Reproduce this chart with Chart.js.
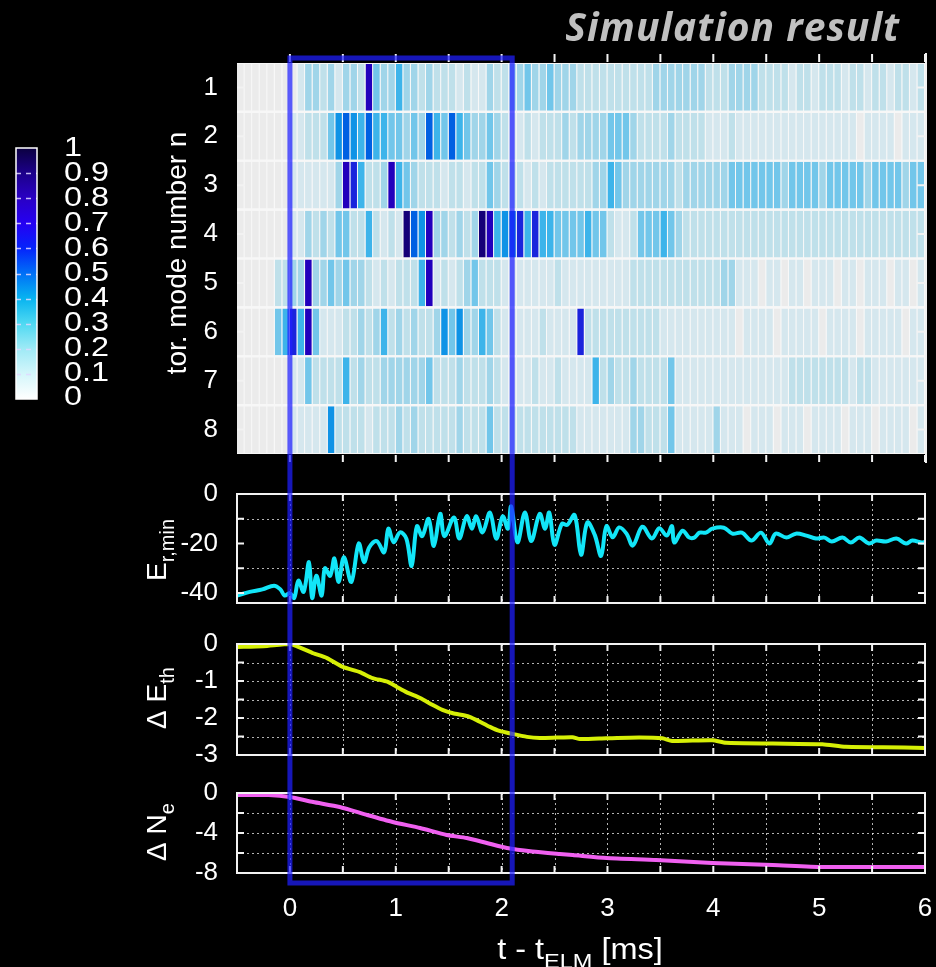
<!DOCTYPE html>
<html>
<head>
<meta charset="utf-8">
<script src="https://cdn.jsdelivr.net/npm/chart.js@4.4.0/dist/chart.umd.min.js"></script>
<style>
  html, body { margin: 0; background: #000; }
  #fig { position: relative; width: 936px; height: 967px; overflow: hidden; background: #000; }
  #fig canvas { position: absolute; left: 0; }
  #title { position: absolute; right: 36px; top: -1px; color: #c0c0c0; letter-spacing: 1px;
           font: italic 700 39px "Open Sans", sans-serif; white-space: nowrap; }
</style>
</head>
<body>
<div id="fig">
  <canvas id="heat" width="936" height="470" style="top:0"></canvas>
  <canvas id="er" width="936" height="155" style="top:470px"></canvas>
  <canvas id="eth" width="936" height="145" style="top:625px"></canvas>
  <canvas id="ne" width="936" height="197" style="top:770px"></canvas>
  <div id="title">Simulation result</div>
</div>
<script>
const FONT = '"Liberation Sans", Arial, Helvetica, sans-serif';

// toroidal mode amplitude, one value per column (tenths of max), columns 1/14 ms wide from -0.5 ms
const modeNumbers = ['1', '2', '3', '4', '5', '6', '7', '8'];
const colStart = -0.5;
const colWidth = 1 / 14;
const modeN1 = [0,0,0,0,0,0,0,0,1,3, 3,2,3,1,3,3,2,9,4,3, 3,5,3,3,2,3,2,2,2,1, 2,1,1,3,2,2,3,3,4,3,
                3,4,3,3,3,2,2,2,2,2, 2,2,2,2,2,3,3,3,3,3, 3,3,2,2,2,3,3,3,3,2, 2,2,2,1,2,2,1,2,2,2,
                1,2,2,1,2,2,1,2,2,1, 2];
const modeN2 = [0,0,0,0,0,0,0,1,1,2, 2,2,4,6,7,6,5,7,5,5, 4,4,3,4,3,7,5,4,7,5, 4,3,3,4,3,2,1,1,2,1,
                2,2,2,3,2,3,3,3,3,4, 4,4,3,2,2,2,2,3,2,2, 2,2,1,1,1,2,1,1,1,1, 1,1,1,1,1,1,1,1,1,1,
                1,1,0,1,1,1,1,0,1,1, 1];
const modeN3 = [0,0,0,0,0,0,0,1,1,1, 1,1,1,3,9,8,5,2,2,3, 9,5,4,3,2,2,2,1,2,2, 1,2,2,4,3,2,2,2,1,2,
                1,2,2,2,2,2,2,3,3,5, 4,3,3,3,3,3,3,3,2,3, 3,3,3,3,3,4,4,4,4,4, 4,4,3,4,4,4,4,3,4,4,
                4,4,4,3,4,4,4,4,3,4, 4];
const modeN4 = [0,0,0,0,0,0,0,1,1,3, 2,3,2,4,4,2,2,5,2,1, 2,1,10,7,6,9,3,3,2,3, 2,3,10,9,5,6,7,8,5,8,
                5,5,4,4,4,4,5,4,4,2, 1,1,2,4,4,4,5,4,3,2, 2,2,2,2,2,2,2,2,2,2, 2,2,2,2,2,2,2,2,2,2,
                2,2,2,2,2,2,2,2,2,2, 2];
const modeN5 = [0,0,0,0,0,2,2,3,3,9, 3,3,4,3,4,3,3,2,1,2, 1,2,2,2,5,9,1,2,1,2, 3,4,2,2,2,1,1,1,1,1,
                1,1,2,1,1,1,1,1,1,1, 1,1,2,2,2,2,2,2,2,2, 2,2,2,2,3,3,1,1,1,0, 1,1,0,1,1,0,1,1,1,0,
                1,1,0,1,1,1,0,1,1,0, 1];
const modeN6 = [0,0,0,0,0,4,5,8,5,9, 4,1,1,1,2,2,3,2,3,5, 2,3,2,3,2,2,3,6,4,6, 3,3,5,4,2,1,1,1,1,1,
                2,1,1,1,1,8,2,2,2,2, 2,2,2,2,2,2,1,1,1,1, 1,1,1,1,1,1,0,1,1,1, 1,0,1,1,1,1,1,0,1,1,
                1,1,0,1,1,1,1,1,0,1, 1];
const modeN7 = [0,0,0,0,0,0,0,1,1,4, 2,2,2,2,5,2,3,2,2,3, 3,3,3,3,3,4,2,2,2,3, 2,2,2,3,2,1,1,1,1,2,
                1,1,2,1,1,1,1,5,2,3, 2,2,3,2,2,2,2,4,1,1, 1,1,1,1,1,1,1,1,1,1, 1,1,1,2,2,2,2,2,2,2,
                2,1,2,2,1,1,1,1,1,1, 1];
const modeN8 = [0,0,0,0,0,0,0,1,1,1, 1,1,6,2,2,2,2,1,2,2, 2,3,2,3,2,2,2,2,2,3, 2,2,2,4,2,2,2,2,2,2,
                2,2,2,2,2,1,1,1,1,1, 1,1,3,3,2,2,2,4,1,1, 1,1,1,3,1,1,1,0,1,1, 1,0,1,1,1,0,1,1,1,1,
                0,1,1,1,0,1,1,1,1,0, 1];
const heatRows = [modeN1, modeN2, modeN3, modeN4, modeN5, modeN6, modeN7, modeN8];
const heatPalette = ['#ebebeb', '#d5e7ee', '#bfe0ea', '#a0d5e9', '#72c6ea', '#3db4ea',
                     '#0f93e6', '#0060e2', '#1a24dc', '#2200bc', '#150078'];

// colour bar
const cbarLevels = [0, 0.1, 0.2, 0.3, 0.4, 0.5, 0.6, 0.7, 0.8, 0.9, 1];
const cbarLabels = ['0', '0.1', '0.2', '0.3', '0.4', '0.5', '0.6', '0.7', '0.8', '0.9', '1'];
const cbarColors = ['#ffffff', '#d4f6fb', '#9feaf6', '#4fd9f2', '#08b4f0', '#0070f6',
                    '#0524fb', '#2500f2', '#2a00c4', '#1c008a', '#0b0040'];

// minimum radial electric field
const erTime = [-0.50,-0.38,-0.26,-0.15,-0.09,-0.05,0.00,0.04,0.08,0.13,0.18,0.21,0.25,0.30,0.33,0.38,0.42,
  0.46,0.51,0.58,0.65,0.70,0.75,0.82,0.89,0.93,0.98,1.04,1.10,1.15,1.20,1.25,1.31,1.36,1.42,1.46,1.55,1.60,
  1.67,1.72,1.76,1.82,1.89,1.95,2.01,2.06,2.09,2.15,2.22,2.28,2.36,2.41,2.45,2.50,2.57,2.62,2.69,2.75,2.81,
  2.88,2.94,2.99,3.05,3.11,3.18,3.24,3.33,3.42,3.49,3.56,3.61,3.63,3.71,3.77,3.82,3.87,3.93,3.99,4.10,4.18,
  4.27,4.36,4.45,4.53,4.59,4.69,4.78,4.88,4.97,5.05,5.12,5.22,5.30,5.38,5.47,5.54,5.63,5.73,5.82,5.88,5.97,6.00];
const erValue = [-41,-39.5,-38.5,-37,-38.5,-41,-40,-42,-35,-39.5,-27.5,-42,-33,-41,-30,-33,-26,
  -35.5,-25.5,-35.5,-20,-27.5,-21.5,-19,-23.5,-14,-19.5,-15.5,-18,-29,-13,-17,-10,-21,-8,-17,-9.5,-18,
  -9,-14,-9,-15.5,-7.5,-18,-9,-14,-5,-19.5,-7.5,-19,-8,-14,-7.5,-20.5,-12,-12.5,-8.5,-24.5,-11.5,
  -16.5,-25,-13,-17.5,-13.5,-16,-20.8,-13.2,-18,-13.8,-16.8,-13,-19.6,-14.8,-17.5,-17.6,-15.6,-15.6,-14,-13.6,-16,
  -15.6,-18.8,-15.6,-20,-16,-17.6,-16,-16.8,-18,-17.6,-19.2,-17.6,-19.6,-17.6,-20,-18.8,-19.2,-18,-20,-18.8,-19.6,-19.4];

// thermal energy change
const ethTime = [-0.5,-0.25,0,0.22,0.35,0.5,0.66,0.78,0.92,1.01,1.10,1.23,1.35,1.44,1.54,1.68,1.76,1.89,
  1.98,2.10,2.24,2.36,2.52,2.67,2.74,2.99,3.30,3.52,3.61,3.99,4.12,4.56,5.03,5.25,5.6,6.0];
const ethValue = [-0.08,-0.06,0,-0.25,-0.38,-0.62,-0.76,-0.92,-1.02,-1.16,-1.30,-1.46,-1.65,-1.78,-1.87,-1.95,
  -2.05,-2.24,-2.35,-2.43,-2.51,-2.54,-2.53,-2.52,-2.57,-2.55,-2.53,-2.55,-2.62,-2.60,-2.67,-2.69,-2.71,-2.78,-2.79,-2.81];

// particle number change
const neTime = [-0.5,-0.2,0,0.22,0.47,0.73,0.97,1.23,1.48,1.67,1.86,2.05,2.29,2.55,2.67,2.99,3.46,3.99,4.56,5.03,5.5,6.0];
const neValue = [-0.2,-0.2,-0.4,-0.9,-1.4,-2.2,-2.9,-3.5,-4.2,-4.5,-5.0,-5.5,-5.85,-6.1,-6.2,-6.5,-6.7,-7.0,-7.2,-7.4,-7.4,-7.4];

const timeTicks = [0, 1, 2, 3, 4, 5, 6];
const erTicks = [0, -20, -40];
const erGrid = [-10, -30];
const ethTicks = [0, -1, -2, -3];
const ethGrid = [-0.5, -1, -1.5, -2, -2.5];
const neTicks = [0, -4, -8];
const neGrid = [-2, -4, -6];
const elmWindow = [0, 2.1];

// label pieces: [text, isSubscript]
const heatTitle = [['tor. mode number n', false]];
const erTitle = [['E', false], ['r,min', true]];
const ethTitle = [['\u0394 E', false], ['th', true]];
const neTitle = [['\u0394 N', false], ['e', true]];
const timeTitle = [['t - t', false], ['ELM', true], [' [ms]', false]];

function drawRich(ctx, parts, cx, cy, size, rotated) {
  const sub = Math.round(size * 0.72);
  ctx.save();
  ctx.translate(cx, cy);
  if (rotated) ctx.rotate(-Math.PI / 2);
  ctx.fillStyle = '#fff';
  ctx.textBaseline = 'alphabetic';
  ctx.textAlign = 'left';
  const widths = parts.map(([t, s]) => { ctx.font = (s ? sub : size) + 'px ' + FONT; return ctx.measureText(t).width; });
  let x = -widths.reduce((a, b) => a + b, 0) / 2;
  parts.forEach(([t, s], i) => {
    ctx.font = (s ? sub : size) + 'px ' + FONT;
    ctx.fillText(t, x, s ? size * 0.3 : 0);
    x += widths[i];
  });
  ctx.restore();
}

const panelPlugin = {
  id: 'panel',
  beforeDatasetsDraw(chart, args, o) {
    const { ctx, chartArea: a, scales: { x, y } } = chart;
    ctx.save();
    if (o.heat) {
      ctx.fillStyle = '#f7f7f7';
      ctx.fillRect(a.left, a.top, a.right - a.left, a.bottom - a.top);
    } else {
      ctx.strokeStyle = 'rgba(255,255,255,0.7)';
      ctx.lineWidth = 1;
      ctx.setLineDash([2, 3]);
      ctx.beginPath();
      for (let t = 0; t < 6; t += 0.5) {
        const px = Math.round(x.getPixelForValue(t)) + 0.5;
        ctx.moveTo(px, a.top); ctx.lineTo(px, a.bottom);
      }
      o.grid.forEach(v => {
        const py = Math.round(y.getPixelForValue(v)) + 0.5;
        ctx.moveTo(a.left, py); ctx.lineTo(a.right, py);
      });
      ctx.stroke();
    }
    ctx.restore();
  },
  afterDatasetsDraw(chart, args, o) {
    const { ctx, chartArea: a, scales: { x, y } } = chart;
    ctx.save();
    ctx.strokeStyle = '#f2f2f2';
    ctx.lineWidth = 2;
    ctx.beginPath();
    if (o.heat) {
      // outward time ticks, inward row ticks, right frame
      for (let t = 0; t <= 6; t += 0.5) {
        const px = x.getPixelForValue(t);
        ctx.moveTo(px, a.top - 9); ctx.lineTo(px, a.top - 1);
        ctx.moveTo(px, a.bottom + 1); ctx.lineTo(px, a.bottom + 8);
      }
      modeNumbers.forEach((m, i) => {
        const py = y.getPixelForValue(i);
        ctx.moveTo(a.left, py); ctx.lineTo(a.left + 8, py);
        ctx.moveTo(a.right - 8, py); ctx.lineTo(a.right, py);
      });
      ctx.moveTo(a.right + 1, a.top - 10); ctx.lineTo(a.right + 1, a.bottom + 9);
    } else {
      ctx.rect(a.left, a.top, a.right - a.left, a.bottom - a.top);
      for (let t = 0; t < 6; t += 0.5) {
        const px = x.getPixelForValue(t);
        ctx.moveTo(px, a.top); ctx.lineTo(px, a.top + 7);
        ctx.moveTo(px, a.bottom - 7); ctx.lineTo(px, a.bottom);
      }
      o.grid.concat(o.ticks).forEach(v => {
        const py = y.getPixelForValue(v);
        ctx.moveTo(a.left, py); ctx.lineTo(a.left + 7, py);
        ctx.moveTo(a.right - 7, py); ctx.lineTo(a.right, py);
      });
    }
    ctx.stroke();
    ctx.restore();
  },
  afterDraw(chart, args, o) {
    const { ctx, scales: { x } } = chart;
    const h = chart.height;
    if (o.colorbar) {
      const cb = { left: 16, top: 148, width: 21, height: 251 };
      const g = ctx.createLinearGradient(0, cb.top + cb.height, 0, cb.top);
      cbarLevels.forEach((v, i) => g.addColorStop(v, cbarColors[i]));
      ctx.save();
      ctx.fillStyle = g;
      ctx.fillRect(cb.left, cb.top, cb.width, cb.height);
      ctx.strokeStyle = 'rgba(225,215,255,0.85)';
      ctx.lineWidth = 1.5;
      ctx.setLineDash([5, 5]);
      ctx.beginPath();
      cbarLevels.slice(1, -1).forEach(v => {
        const py = Math.round(cb.top + cb.height * (1 - v)) + 0.5;
        ctx.moveTo(cb.left, py); ctx.lineTo(cb.left + cb.width, py);
      });
      ctx.stroke();
      ctx.setLineDash([]);
      ctx.strokeStyle = '#fff';
      ctx.strokeRect(cb.left, cb.top, cb.width, cb.height);
      // labels are drawn slightly widened, as in the plotting program's output
      ctx.fillStyle = '#fff';
      ctx.font = '27px ' + FONT;
      ctx.textBaseline = 'middle';
      cbarLabels.forEach((lab, i) => {
        ctx.save();
        ctx.translate(64, cb.top + 1 + (cb.height - 2) * (1 - cbarLevels[i]));
        ctx.scale(1.2, 1);
        ctx.fillText(lab, 0, 0);
        ctx.restore();
      });
      ctx.restore();
    }
    if (o.title) drawRich(ctx, o.title.parts, o.title.x, o.title.y, o.title.size, true);
    if (o.xTitle) {
      ctx.save();
      ctx.translate(o.xTitle.x, o.xTitle.y);
      ctx.scale(1.12, 1);
      drawRich(ctx, o.xTitle.parts, 0, 0, o.xTitle.size, false);
      ctx.restore();
    }
    // ELM window frame
    const x0 = x.getPixelForValue(elmWindow[0]);
    const x1 = x.getPixelForValue(elmWindow[1]);
    ctx.save();
    ctx.strokeStyle = 'rgba(30,30,255,0.72)';
    ctx.lineWidth = 5;
    ctx.beginPath();
    if (o.winTop != null) {
      ctx.moveTo(x0, h + 4); ctx.lineTo(x0, o.winTop); ctx.lineTo(x1, o.winTop); ctx.lineTo(x1, h + 4);
    } else if (o.winBottom != null) {
      ctx.moveTo(x0, -4); ctx.lineTo(x0, o.winBottom); ctx.lineTo(x1, o.winBottom); ctx.lineTo(x1, -4);
    } else {
      ctx.moveTo(x0, -4); ctx.lineTo(x0, h + 4);
      ctx.moveTo(x1, -4); ctx.lineTo(x1, h + 4);
    }
    ctx.stroke();
    ctx.restore();
  }
};

// keep every panel's plot area at the same pixel position
const noEdgePadding = s => { s.paddingTop = 0; s.paddingBottom = 0; s.paddingLeft = 0; s.paddingRight = 0; };
const fixedWidth = s => { s.width = 237; noEdgePadding(s); };
const timeAxis = (show) => ({
  type: 'linear', min: -0.5, max: 6,
  display: show,
  grid: { display: false, drawTicks: false },
  border: { display: false },
  afterBuildTicks: s => { s.ticks = timeTicks.map(v => ({ value: v })); },
  afterFit: s => { if (show) s.height = 94; noEdgePadding(s); },
  ticks: { color: '#fff', font: { family: FONT, size: 26 }, padding: 20, maxRotation: 0 }
});
const valueAxis = (min, max, ticks) => ({
  type: 'linear', min, max,
  grid: { display: false, drawTicks: false },
  border: { display: false },
  afterBuildTicks: s => { s.ticks = ticks.map(v => ({ value: v })); },
  afterFit: fixedWidth,
  ticks: { color: '#fff', font: { family: FONT, size: 26 }, padding: 19 }
});
const common = {
  responsive: false,
  animation: false,
  events: []
};

// heat map of mode amplitudes
const heatCells = [];
heatRows.forEach((row, r) => row.forEach((lv, i) => {
  heatCells.push({ y: modeNumbers[r], x: [colStart + i * colWidth, colStart + (i + 1) * colWidth], lv });
}));

new Chart(document.getElementById('heat'), {
  type: 'bar',
  data: {
    labels: modeNumbers,
    datasets: [{
      data: heatCells,
      backgroundColor: c => heatPalette[c.raw.lv],
      borderColor: 'rgba(255,255,255,0.2)',
      borderWidth: { left: 0, top: 0, bottom: 0, right: 1 },
      borderSkipped: false,
      categoryPercentage: 1,
      barPercentage: 0.955,
      grouped: false
    }]
  },
  options: {
    ...common,
    indexAxis: 'y',
    layout: { autoPadding: false, padding: { left: 0, right: 11, top: 63, bottom: 16 } },
    scales: {
      x: timeAxis(false),
      y: {
        type: 'category',
        grid: { display: false, drawTicks: false },
        border: { display: false },
        afterFit: fixedWidth,
        ticks: { color: '#fff', font: { family: FONT, size: 26 }, padding: 19 }
      }
    },
    plugins: {
      legend: { display: false }, tooltip: { enabled: false },
      panel: { heat: true, colorbar: true, winTop: 58,
               title: { parts: heatTitle, x: 186, y: 253, size: 28 } }
    }
  },
  plugins: [panelPlugin]
});

function linePanel(id, time, value, color, min, max, ticks, grid, pad, extra) {
  return new Chart(document.getElementById(id), {
    type: 'line',
    data: {
      datasets: [{
        data: time.map((t, i) => ({ x: t, y: value[i] })),
        borderColor: color,
        borderWidth: 4,
        pointRadius: 0,
        tension: extra.tension || 0
      }]
    },
    options: {
      ...common,
      layout: { autoPadding: false, padding: pad },
      scales: { x: timeAxis(!!extra.xTitle), y: valueAxis(min, max, ticks) },
      plugins: {
        legend: { display: false }, tooltip: { enabled: false },
        panel: Object.assign({ ticks, grid }, extra)
      }
    },
    plugins: [panelPlugin]
  });
}

linePanel('er', erTime, erValue, '#12e6f8', -44, 0, erTicks, erGrid,
  { left: 0, right: 11, top: 24, bottom: 22 },
  { title: { parts: erTitle, x: 166, y: 80, size: 28 }, tension: 0.35 });
linePanel('eth', ethTime, ethValue, '#d6ef06', -3, 0, ethTicks, ethGrid,
  { left: 0, right: 11, top: 19, bottom: 15 },
  { title: { parts: ethTitle, x: 166, y: 73, size: 28 }, tension: 0.2 });
linePanel('ne', neTime, neValue, '#f060f0', -8, 0, neTicks, neGrid,
  { left: 0, right: 11, top: 23, bottom: 0 },
  { title: { parts: neTitle, x: 166, y: 62, size: 28 }, winBottom: 113, tension: 0.2,
    xTitle: { parts: timeTitle, x: 580, y: 189, size: 29 } });
</script>
</body>
</html>
